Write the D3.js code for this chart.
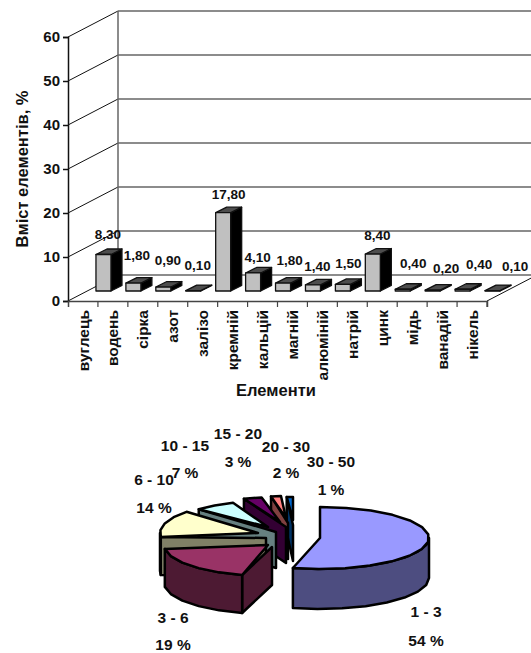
<!DOCTYPE html>
<html><head><meta charset="utf-8">
<script src="https://cdnjs.cloudflare.com/ajax/libs/d3/7.8.5/d3.min.js"></script>
<style>html,body{margin:0;padding:0;background:#fff}svg{display:block}text{font-family:"Liberation Sans",Arial,sans-serif;font-weight:bold;fill:#111}</style>
</head><body><svg id="c" width="531" height="653"></svg>
<script>
// ---- data ----
const categories = ["вуглець","водень","сірка","азот","залізо","кремній","кальцій","магній","алюміній","натрій","цинк","мідь","ванадій","нікель"];
const contents = [8.3,1.8,0.9,0.1,17.8,4.1,1.8,1.4,1.5,8.4,0.4,0.2,0.4,0.1];
const yTicks = [0,10,20,30,40,50,60];
const pieRanges = ["1 - 3","3 - 6","6 - 10","10 - 15","15 - 20","20 - 30","30 - 50"];
const pieShares = [54,19,14,7,3,2,1];

// ---- layout ----
const svg = d3.select("#c");
const wallShift = {x:50,y:-26}, barShift = {x:20.5,y:-10}, barDepth = {x:11,y:-5.5};
const x = d3.scaleBand().domain(categories).range([68,487]);
const y = d3.scaleLinear().domain([0,60]).range([301,37]);
const barW = 15;
const labelNudgeX = [12,11,12,12,13,12,14,12,13,12,18,21,24,30];
const labelNudgeY = [-20,-28,-27,-25,-19,-16,-23,-19,-21,-19,-26,-22,-25,-24];
const pieFill = ["#9999FF","#993366","#FFFFCC","#CCFFFF","#660066","#FF8080","#0066CC"];
const pieSide = ["#4D4D80","#4D1A33","#808066","#668080","#330033","#804040","#003366"];
const pieCx = [320,268,258,268,280,286,293];
const pieCy = [538,545,533,527,522,518,520];
const pieRx = [109,104,98,95,98,80,100];
const pieRy = [31,31,31,26,25,22,23];
const pieH  = [40,38,38,36,36,36,36];
const cutDx = [0,4,8,8,6,2,0];
const cutDy = [0,2,5,5,5,5,5];
const labelCx = [426,173,154,185,238,286,331];
const labelTop = [611,617,479,445,433,446,461];
const labelGap = [29,27,28,27,28,26,28];
const path = d3.line();

// ---- walls, gridlines, axes ----
const grid = svg.append("g");
yTicks.forEach(t=>{
  grid.append("line").attr("x1",x.range()[0]).attr("y1",y(t))
    .attr("x2",x.range()[0]+wallShift.x).attr("y2",y(t)+wallShift.y)
    .attr("stroke","#111").attr("stroke-width",1);
  grid.append("line").attr("x1",x.range()[0]+wallShift.x).attr("y1",y(t)+wallShift.y)
    .attr("x2",531).attr("y2",y(t)+wallShift.y)
    .attr("stroke","#666").attr("stroke-width",1.3);
});
grid.append("line").attr("x1",x.range()[0]+wallShift.x).attr("y1",y(60)+wallShift.y)
  .attr("x2",x.range()[0]+wallShift.x).attr("y2",y(0)+wallShift.y).attr("stroke","#666").attr("stroke-width",1.5);
grid.append("line").attr("x1",x.range()[1]).attr("y1",y(0))
  .attr("x2",x.range()[1]+wallShift.x).attr("y2",y(0)+wallShift.y).attr("stroke","#111").attr("stroke-width",1);

const yAxis = d3.axisLeft(y).tickValues(yTicks).tickSize(5).tickPadding(3).tickFormat(d3.format("d"));
const gy = svg.append("g").attr("transform",`translate(${x.range()[0]},0)`).call(yAxis);
gy.selectAll("line,path").attr("stroke","#111").attr("stroke-width",1.5);
gy.selectAll("text").style("font-size","15px").attr("fill","#111");

const xAxis = d3.axisBottom(x).tickSizeOuter(6).tickSizeInner(0).tickPadding(9);
const gx = svg.append("g").attr("transform",`translate(0,${y(0)})`).call(xAxis);
gx.select("path").attr("stroke","#444").attr("stroke-width",1.5);
gx.selectAll(".tick line").remove();
gx.selectAll(".tick text").attr("transform","rotate(-90)").attr("text-anchor","end")
  .attr("x",-9).attr("y",0).attr("dy","0.36em").style("font-size","15.5px").attr("fill","#111");
svg.append("g").selectAll("line").data(categories).join("line")
  .attr("x1",d=>x(d)+x.bandwidth()).attr("x2",d=>x(d)+x.bandwidth())
  .attr("y1",y(0)).attr("y2",y(0)+6).attr("stroke","#444").attr("stroke-width",1.2);

// ---- bars ----
const bars = svg.append("g").selectAll("g").data(contents).join("g").attr("stroke","#111").attr("stroke-width",1.3).attr("stroke-linejoin","round");
const bx = (i)=>x(categories[i])+(x.bandwidth()-barW)/2+barShift.x;
const by = (v)=>y(v)+barShift.y, by0 = y(0)+barShift.y;
bars.append("path").attr("fill","#000").attr("d",(v,i)=>path([[bx(i)+barW,by(v)],[bx(i)+barW+barDepth.x,by(v)+barDepth.y],[bx(i)+barW+barDepth.x,by0+barDepth.y],[bx(i)+barW,by0]])+"Z");
bars.append("path").attr("fill","#4D4D4D").attr("d",(v,i)=>path([[bx(i),by(v)],[bx(i)+barDepth.x,by(v)+barDepth.y],[bx(i)+barW+barDepth.x,by(v)+barDepth.y],[bx(i)+barW,by(v)]])+"Z");
bars.append("rect").attr("fill","#C0C0C0").attr("x",(v,i)=>bx(i)).attr("width",barW).attr("y",v=>by(v)).attr("height",v=>by0-by(v));

svg.append("g").selectAll("text").data(contents).join("text")
  .attr("x",(v,i)=>bx(i)+labelNudgeX[i]).attr("y",(v,i)=>by(v)+labelNudgeY[i]).attr("dy","0.36em")
  .attr("text-anchor","middle").style("font-size","13.5px").text(v=>d3.format(".2f")(v).replace(".",","));

svg.append("text").attr("transform","translate(22,169) rotate(-90)").attr("text-anchor","middle").attr("dy","0.36em").style("font-size","16.5px").text("Вміст елементів, %");
svg.append("text").attr("x",276).attr("y",390).attr("text-anchor","middle").attr("dy","0.36em").style("font-size","16.5px").text("Елементи");

// ---- 3-D pie ----
const arcs = d3.pie().sort(null)(pieShares);
const rim = (i,a)=>[pieCx[i]+pieRx[i]*Math.sin(a), pieCy[i]-pieRy[i]*Math.cos(a)];
const sweep = (a0,a1)=>{const n=Math.max(1,Math.round((a1-a0)/(Math.PI/13)));return d3.range(n+1).map(k=>a0+(a1-a0)*k/n);};
const pieG = svg.append("g").attr("stroke","#000").attr("stroke-width",2.5).attr("stroke-linejoin","round");
d3.range(pieShares.length-1,-1,-1).forEach(i=>{
  const a=arcs[i], h=pieH[i], c=[pieCx[i],pieCy[i]];
  const drop=p=>[p[0],p[1]+h];
  if(i>0){ // cut face
    const inner=[c[0]+cutDx[i],c[1]+cutDy[i]];
    const st=rim(i,a.startAngle);
    pieG.append("path").attr("fill",pieSide[i]).attr("d",path([st,inner,drop(inner),drop(st)])+"Z");
  }
  const lo=Math.max(a.startAngle,Math.PI/2), hi=Math.min(a.endAngle,Math.PI*1.5);
  if(hi>lo){
    const pts=sweep(lo,hi).map(t=>rim(i,t));
    pieG.append("path").attr("fill",pieSide[i]).attr("d",path(pts.concat(pts.slice().reverse().map(drop)))+"Z");
  }
  pieG.append("path").attr("fill",pieFill[i]).attr("d",path([c].concat(sweep(a.startAngle,a.endAngle).map(t=>rim(i,t))))+"Z");
});
const pl = svg.append("g").attr("text-anchor","middle").style("font-size","15.5px");
pieShares.forEach((s,i)=>{
  pl.append("text").attr("x",labelCx[i]).attr("y",labelTop[i]).attr("dy","0.36em").text(pieRanges[i]);
  pl.append("text").attr("x",labelCx[i]).attr("y",labelTop[i]+labelGap[i]).attr("dy","0.36em").text(s+" %");
});
</script></body></html>
